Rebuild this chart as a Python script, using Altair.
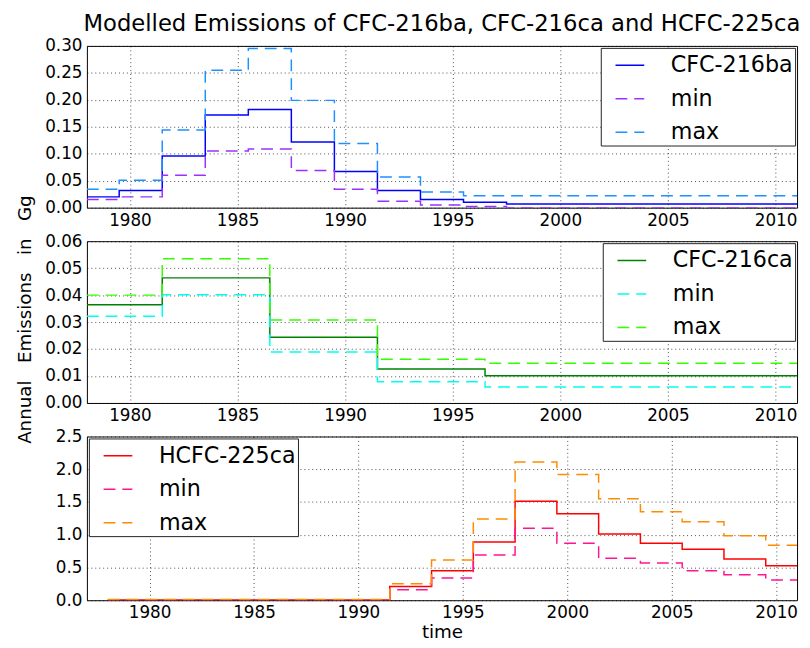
import altair as alt
import pandas as pd

FONT = "DejaVu Sans"

# ---------------- data ----------------
# Panel 1: CFC-216ba (step edges, value holds until next edge)
ba_names = ["CFC-216ba", "min", "max"]
ba_colors = ["#0000ff", "#9b30ff", "#1e90ff"]
ba_edges = [1978, 1979.5, 1981.5, 1983.5, 1985.5, 1987.5, 1989.5, 1991.5, 1993.5, 1995.5, 1997.5, 2011]
ba_best = [0.020, 0.032, 0.096, 0.172, 0.182, 0.122, 0.067, 0.032, 0.015, 0.010, 0.007, 0.007]
ba_min = [0.015, 0.020, 0.060, 0.105, 0.109, 0.069, 0.034, 0.012, 0.005, 0.002, 0.000, 0.000]
ba_max = [0.034, 0.051, 0.144, 0.255, 0.295, 0.199, 0.119, 0.057, 0.029, 0.022, 0.022, 0.022]
ba_yticks = [0.0, 0.05, 0.10, 0.15, 0.20, 0.25, 0.30]

# Panel 2: CFC-216ca
ca_names = ["CFC-216ca", "min", "max"]
ca_colors = ["#008000", "#00ffee", "#33ff00"]
ca_edges = [1978, 1981.5, 1986.5, 1991.5, 1996.5, 2011]
ca_best = [0.0364, 0.0464, 0.0244, 0.0126, 0.0101, 0.0101]
ca_min = [0.0322, 0.0401, 0.0189, 0.0079, 0.0059, 0.0059]
ca_max = [0.0400, 0.0535, 0.0308, 0.0162, 0.0147, 0.0147]
ca_yticks = [0.0, 0.01, 0.02, 0.03, 0.04, 0.05, 0.06]

# Panel 3: HCFC-225ca
hc_names = ["HCFC-225ca", "min", "max"]
hc_colors = ["#ff0000", "#ff1493", "#ff8c00"]
hc_edges = [1978, 1991.5, 1993.5, 1995.5, 1997.5, 1999.5, 2001.5, 2003.5, 2005.5, 2007.5, 2009.5, 2011]
hc_best = [0.005, 0.21, 0.45, 0.89, 1.51, 1.32, 1.01, 0.87, 0.78, 0.63, 0.525, 0.525]
hc_min = [0.000, 0.16, 0.34, 0.69, 1.10, 0.87, 0.64, 0.57, 0.45, 0.39, 0.31, 0.31]
hc_max = [0.010, 0.25, 0.615, 1.24, 2.11, 1.92, 1.55, 1.35, 1.20, 0.985, 0.84, 0.84]
hc_yticks = [0.0, 0.5, 1.0, 1.5, 2.0, 2.5]

x_ticks = [1980, 1985, 1990, 1995, 2000, 2005, 2010]

TITLE = "Modelled Emissions of CFC-216ba, CFC-216ca and HCFC-225ca"
YTITLE = "Annual\u00a0\u00a0\u00a0Emissions\u00a0\u00a0\u00a0in\u00a0\u00a0\u00a0Gg"


def long_df(edges, names, series):
    rows = []
    for name, vals in zip(names, series):
        for x, v in zip(edges, vals):
            rows.append({"year": x, "value": v, "series": name})
    return pd.DataFrame(rows)


def panel(df, names, colors, xdom, ydom, yticks, yfmt, orient, height,
          xaxis_extra=None, yaxis_extra=None, title=None):
    dashes = [[1, 0], [12, 7], [12, 7]]
    leg = alt.Legend(
        title=None, orient=orient, offset=2, padding=2,
        strokeColor="#222222", fillColor="white", cornerRadius=0,
        labelFont=FONT, labelFontSize=22.5, labelColor="black",
        symbolType="stroke", symbolSize=850, symbolStrokeWidth=1.5,
        symbolOffset=12, labelOffset=26, rowPadding=7,
    )
    xa = dict(values=x_ticks, format="d", title=None)
    if xaxis_extra:
        xa.update(xaxis_extra)
    ya = dict(values=yticks, format=yfmt, title=None)
    if yaxis_extra:
        ya.update(yaxis_extra)
    ch = alt.Chart(df).mark_line(interpolate="step-after", strokeWidth=1.5, clip=True).encode(
        x=alt.X("year:Q", scale=alt.Scale(domain=xdom, nice=False, zero=False), axis=alt.Axis(**xa)),
        y=alt.Y("value:Q", scale=alt.Scale(domain=ydom, nice=False, zero=False), axis=alt.Axis(**ya)),
        color=alt.Color("series:N", scale=alt.Scale(domain=names, range=colors), legend=leg),
        strokeDash=alt.StrokeDash("series:N", scale=alt.Scale(domain=names, range=dashes), legend=leg),
    )
    props = dict(width=720, height=height)
    if title is not None:
        props["title"] = title
    return ch.properties(**props)


p1 = panel(long_df(ba_edges, ba_names, [ba_best, ba_min, ba_max]), ba_names, ba_colors,
           [1978, 2011], [0, 0.30], ba_yticks, ".2f", "top-right", 164,
           title=alt.TitleParams(TITLE, font=FONT, fontSize=23, fontWeight="normal",
                                 color="black", anchor="middle", frame="group", offset=1))
p2 = panel(long_df(ca_edges, ca_names, [ca_best, ca_min, ca_max]), ca_names, ca_colors,
           [1978, 2011], [0, 0.06], ca_yticks, ".2f", "top-right", 164,
           yaxis_extra=dict(title=YTITLE, titleFont=FONT, titleFontSize=18.5, titleFontWeight="normal",
                            titleColor="black", titlePadding=10, titleY=79))
p3 = panel(long_df(hc_edges, hc_names, [hc_best, hc_min, hc_max]), hc_names, hc_colors,
           [1977, 2011], [0, 2.5], hc_yticks, ".1f", "top-left", 166,
           xaxis_extra=dict(title="time", titleFont=FONT, titleFontSize=18.5, titleFontWeight="normal",
                            titleColor="black", titlePadding=2))

chart = alt.vconcat(p1, p2, p3, spacing=34, bounds="flush").resolve_scale(
    color="independent", strokeDash="independent", x="independent", y="independent"
).resolve_legend(
    color="independent", strokeDash="independent"
).configure_view(
    stroke="black", strokeWidth=1
).configure_axis(
    labelFont=FONT, labelFontSize=17, labelColor="black", labelFlush=False, labelOverlap=False,
    grid=True, gridColor="black", gridDash=[1, 3], gridOpacity=0.7, gridWidth=1,
    domain=False, ticks=False, labelPadding=5,
).properties(
    padding={"left": 7, "top": 0, "right": 0, "bottom": 2},
    background="white",
)

chart.save("out.html", embed_options={"renderer": "svg", "actions": False})
